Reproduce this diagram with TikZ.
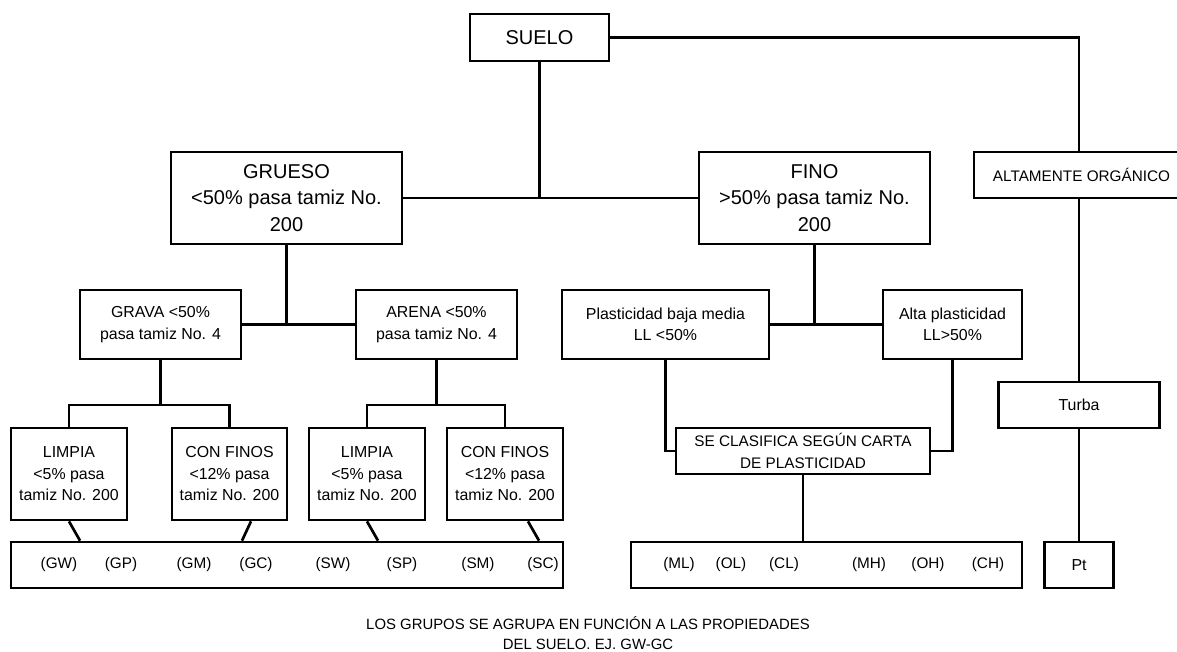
\documentclass[tikz,border=0pt]{standalone}
\usepackage{fontspec}
\setmainfont{Liberation Sans}
\begin{document}
\begin{tikzpicture}[x=1pt,y=-1pt,
  box/.style={draw=black,line width=2.7pt,rectangle,inner sep=0pt,align=center,text=black},
  bigtxt/.style={font=\fontsize{20}{26.5}\selectfont},
  smalltxt/.style={font=\fontsize{15.9}{21.5}\selectfont},
  capstxt/.style={font=\fontsize{15.3}{21.5}\selectfont},
  lbl/.style={inner sep=0pt,font=\fontsize{15.3}{20}\selectfont,text=black},
  conn/.style={draw=black,line width=2.7pt}]
\useasboundingbox (0,0) rectangle (1177,651);
\fill[white] (0,0) rectangle (1177,651);
% nodes
\node[box,bigtxt,minimum width=139pt,minimum height=47pt] (suelo) at (539.5,37.5) {SUELO};
\node[box,bigtxt,minimum width=231pt,minimum height=92pt] (grueso) at (286.5,198) {GRUESO\\<50\% pasa tamiz No.\\200};
\node[box,bigtxt,minimum width=231pt,minimum height=92pt] (fino) at (814.5,198) {FINO\\>50\% pasa tamiz No.\\200};
\node[box,capstxt,minimum width=210pt,minimum height=46pt] (alto) at (1079,175) {\hspace*{5pt}ALTAMENTE ORGÁNICO};
\node[box,smalltxt,minimum width=161pt,minimum height=69pt] (grava) at (160.5,324.5) {GRAVA <50\%\\pasa tamiz No. 4};
\node[box,smalltxt,minimum width=161pt,minimum height=69pt] (arena) at (436.5,324.5) {ARENA <50\%\\pasa tamiz No. 4};
\node[box,smalltxt,minimum width=207pt,minimum height=69pt] (plbaja) at (665.5,324.5) {Plasticidad baja media\\LL <50\%};
\node[box,smalltxt,minimum width=139pt,minimum height=69pt] (alta) at (952.5,324.5) {Alta plasticidad\\LL>50\%};
\node[box,smalltxt,minimum width=116pt,minimum height=92pt] (limpiaA) at (69,474) {LIMPIA\\<5\% pasa\\tamiz No. 200};
\node[box,smalltxt,minimum width=115pt,minimum height=92pt] (finosA) at (229.5,474) {CON FINOS\\<12\% pasa\\tamiz No. 200};
\node[box,smalltxt,minimum width=116pt,minimum height=92pt] (limpiaB) at (367,474) {LIMPIA\\<5\% pasa\\tamiz No. 200};
\node[box,smalltxt,minimum width=116pt,minimum height=92pt] (finosB) at (505,474) {CON FINOS\\<12\% pasa\\tamiz No. 200};
\node[box,capstxt,minimum width=254pt,minimum height=46pt] (sec) at (803,451) {SE CLASIFICA SEGÚN CARTA\\DE PLASTICIDAD};
\node[box,smalltxt,minimum width=161pt,minimum height=46pt] (turba) at (1079,405) {Turba};
\node[box,minimum width=552pt,minimum height=46pt] (gbox) at (287,565) {};
\node[box,minimum width=391pt,minimum height=46pt] (fbox) at (826.5,565) {};
\node[box,smalltxt,minimum width=69pt,minimum height=46pt] (pt) at (1079,565) {Pt};
% labels in group boxes
\node[lbl] (gw) at (59,565) {(GW)};
\node[lbl] (gp) at (121,565) {(GP)};
\node[lbl] (gm) at (194,565) {(GM)};
\node[lbl] (gc) at (256,565) {(GC)};
\node[lbl] (sw) at (333,565) {(SW)};
\node[lbl] (sp) at (402,565) {(SP)};
\node[lbl] (sm) at (478,565) {(SM)};
\node[lbl] (sc) at (543,565) {(SC)};
\node[lbl] (ml) at (679,565) {(ML)};
\node[lbl] (ol) at (731,565) {(OL)};
\node[lbl] (cl) at (784,565) {(CL)};
\node[lbl] (mh) at (869,565) {(MH)};
\node[lbl] (oh) at (928,565) {(OH)};
\node[lbl] (ch) at (988,565) {(CH)};
% footer
\node[inner sep=0pt,align=center,font=\fontsize{14.9}{20}\selectfont] (nota) at (588,633) {LOS GRUPOS SE AGRUPA EN FUNCIÓN A LAS PROPIEDADES\\DEL SUELO. EJ. GW-GC};
% connectors
\coordinate (gravaj) at (160.5,405);
\coordinate (arenaj) at (436.5,405);
\draw[conn] (suelo.south) -- (suelo.south |- grueso.east);
\draw[conn] (grueso.east) -- (fino.west);
\draw[conn] (suelo.east) -| (alto.north);
\draw[conn] (grueso.south) -- (grueso.south |- grava.east);
\draw[conn] (grava.east) -- (arena.west);
\draw[conn] (fino.south) -- (fino.south |- plbaja.east);
\draw[conn] (plbaja.east) -- (alta.west);
\draw[conn] (grava.south) -- (gravaj);
\draw[conn] (limpiaA.north) |- (gravaj) -| (finosA.north);
\draw[conn] (arena.south) -- (arenaj);
\draw[conn] (limpiaB.north) |- (arenaj) -| (finosB.north);
\draw[conn] (limpiaA.south) -- ([xshift=11pt]limpiaA.south |- gbox.north);
\draw[conn] ([xshift=21.5pt]finosA.south) -- ([xshift=12.5pt]finosA.south |- gbox.north);
\draw[conn] (limpiaB.south) -- ([xshift=11pt]limpiaB.south |- gbox.north);
\draw[conn] ([xshift=23pt]finosB.south) -- ([xshift=34pt]finosB.south |- gbox.north);
\draw[conn] (plbaja.south) |- (sec.west);
\draw[conn] (alta.south) |- (sec.east);
\draw[conn] (sec.south) -- (sec.south |- fbox.north);
\draw[conn] (alto.south) -- (turba.north);
\draw[conn] (turba.south) -- (pt.north);
\end{tikzpicture}
\end{document}
